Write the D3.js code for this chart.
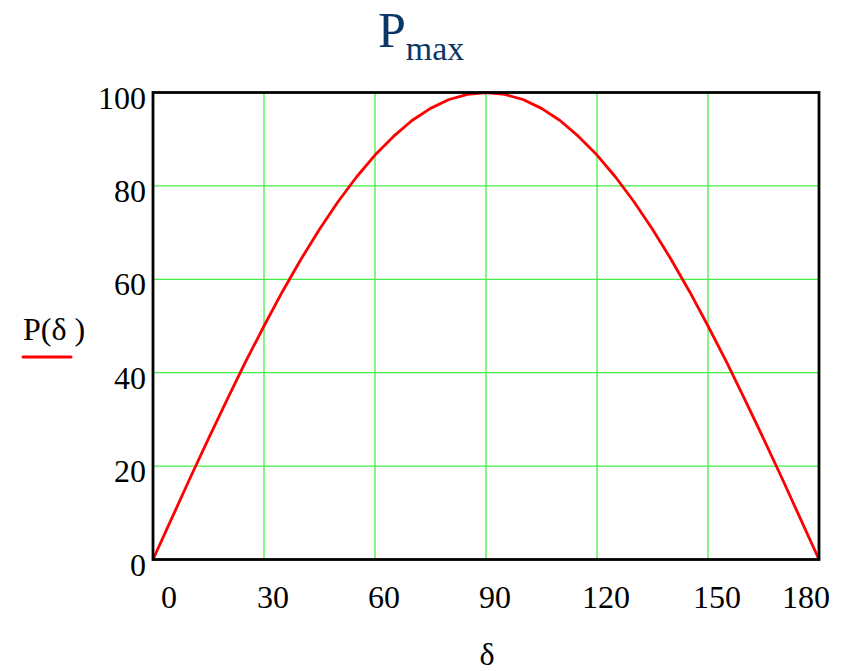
<!DOCTYPE html>
<html>
<head>
<meta charset="utf-8">
<script src="https://cdn.jsdelivr.net/npm/d3@7"></script>
<style>
  body { margin: 0; background: #fff; }
  text { font-family: "Liberation Serif", "Times New Roman", serif; }
</style>
</head>
<body>
<svg id="chart" width="843" height="671"></svg>
<script>
// load angle delta (degrees) and power P
var deltaDeg = [0, 5, 10, 15, 20, 25, 30, 35, 40, 45, 50, 55, 60, 65, 70, 75, 80, 85, 90,
                95, 100, 105, 110, 115, 120, 125, 130, 135, 140, 145, 150, 155, 160, 165, 170, 175, 180];
var powerP = [0, 8.7, 17.4, 25.9, 34.2, 42.3, 50, 57.4, 64.3, 70.7, 76.6, 81.9, 86.6, 90.6, 94, 96.6, 98.5, 99.6, 100,
              99.6, 98.5, 96.6, 94, 90.6, 86.6, 81.9, 76.6, 70.7, 64.3, 57.4, 50, 42.3, 34.2, 25.9, 17.4, 8.7, 0];
var xTicks = [0, 30, 60, 90, 120, 150, 180];
var yTicks = [0, 20, 40, 60, 80, 100];

var svg = d3.select("#chart");

var plotL = 153, plotR = 819, plotT = 92.5, plotB = 559.5;

var x = d3.scaleLinear().domain([0, 180]).range([plotL, plotR]);
var y = d3.scaleLinear().domain([0, 100]).range([plotB, plotT]);

// grid
var grid = svg.append("g").attr("stroke", "#44ee44").attr("stroke-width", 1.3);
grid.selectAll(".vx")
  .data(xTicks.slice(1, -1))
  .enter().append("line")
  .attr("x1", function (d) { return x(d); })
  .attr("x2", function (d) { return x(d); })
  .attr("y1", plotT).attr("y2", plotB);
grid.selectAll(".hy")
  .data(yTicks.slice(1, -1))
  .enter().append("line")
  .attr("y1", function (d) { return y(d); })
  .attr("y2", function (d) { return y(d); })
  .attr("x1", plotL).attr("x2", plotR);

// curve
var pts = deltaDeg.map(function (d, i) { return [d, powerP[i]]; });
var line = d3.line()
  .x(function (d) { return x(d[0]); })
  .y(function (d) { return y(d[1]); });

svg.append("path")
  .datum(pts)
  .attr("d", line)
  .attr("fill", "none")
  .attr("stroke", "#ff0000")
  .attr("stroke-width", 2.8)
  .attr("stroke-linejoin", "round");

// frame
svg.append("rect")
  .attr("x", plotL).attr("y", plotT)
  .attr("width", plotR - plotL).attr("height", plotB - plotT)
  .attr("fill", "none")
  .attr("stroke", "#000")
  .attr("stroke-width", 2.8);

// x tick labels (Mathcad style: shifted a bit to the right, ends kept inside)
svg.append("g").selectAll("text")
  .data(xTicks)
  .enter().append("text")
  .attr("x", function (d, i) {
    if (i === 0) return x(d) + 16;
    if (i === xTicks.length - 1) return x(d) - 13;
    return x(d) + 9;
  })
  .attr("y", 608)
  .attr("text-anchor", "middle")
  .attr("font-size", 32)
  .text(function (d) { return d; });

// y tick labels
svg.append("g").selectAll("text")
  .data(yTicks)
  .enter().append("text")
  .attr("x", 146)
  .attr("y", function (d) { return y(d) + 16; })
  .attr("text-anchor", "end")
  .attr("font-size", 32)
  .text(function (d) { return d; });

// title P_max
var title = svg.append("text")
  .attr("x", 378).attr("y", 47)
  .attr("fill", "#0a3768");
title.append("tspan").attr("font-size", 50).text("P");
title.append("tspan").attr("font-size", 34).attr("dy", 13).text("max");

// y label with legend swatch
svg.append("text")
  .attr("x", 23).attr("y", 340)
  .attr("font-size", 32)
  .text("P(\u03b4 )");
svg.append("line")
  .attr("x1", 23).attr("x2", 71)
  .attr("y1", 357).attr("y2", 357)
  .attr("stroke", "#ff0000")
  .attr("stroke-width", 3)
  .attr("stroke-linecap", "round");

// x label
svg.append("text")
  .attr("x", 487).attr("y", 665)
  .attr("text-anchor", "middle")
  .attr("font-size", 32)
  .text("\u03b4");
</script>
</body>
</html>
